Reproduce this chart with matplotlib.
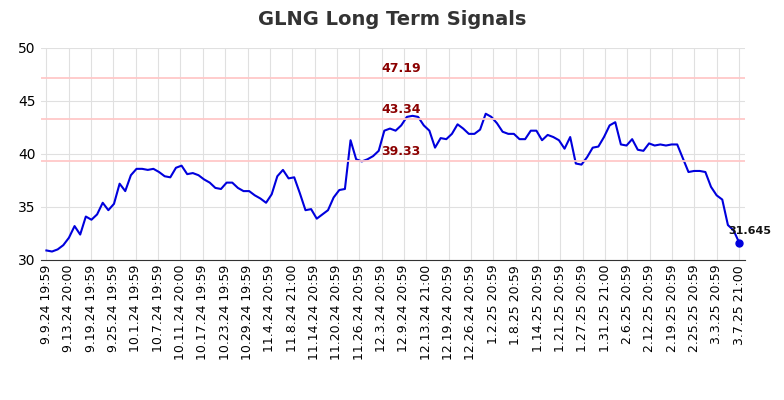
import matplotlib
matplotlib.use("Agg")
import matplotlib.pyplot as plt
import numpy as np

prices = [30.9,30.8,31.0,31.4,32.1,33.2,32.4,34.1,33.8,34.3,35.4,34.7,35.3,37.2,36.5,38.0,38.6,38.6,38.5,38.6,
          38.3,37.9,37.8,38.7,38.9,38.1,38.2,38.0,37.6,37.3,36.8,36.7,37.3,37.3,36.8,36.5,36.5,36.1,35.8,35.4,
          36.2,37.9,38.5,37.7,37.8,36.3,34.7,34.8,33.9,34.3,34.7,35.9,36.6,36.7,41.3,39.5,39.3,39.5,39.8,40.3,
          42.2,42.4,42.2,42.7,43.5,43.6,43.5,42.7,42.2,40.6,41.5,41.4,41.9,42.8,42.4,41.9,41.9,42.3,43.8,43.5,
          42.9,42.1,41.9,41.9,41.4,41.4,42.2,42.2,41.3,41.8,41.6,41.3,40.5,41.6,39.1,39.0,39.7,40.6,40.7,41.6,
          42.7,43.0,40.9,40.8,41.4,40.4,40.3,41.0,40.8,40.9,40.8,40.9,40.9,39.6,38.3,38.4,38.4,38.3,36.9,36.1,
          35.7,33.3,32.8,31.645]
tick_labels = ["9.9.24 19:59","9.13.24 20:00","9.19.24 19:59","9.25.24 19:59","10.1.24 19:59","10.7.24 19:59",
               "10.11.24 20:00","10.17.24 19:59","10.23.24 19:59","10.29.24 19:59","11.4.24 20:59","11.8.24 21:00",
               "11.14.24 20:59","11.20.24 20:59","11.26.24 20:59","12.3.24 20:59","12.9.24 20:59","12.13.24 21:00",
               "12.19.24 20:59","12.26.24 20:59","1.2.25 20:59","1.8.25 20:59","1.14.25 20:59","1.21.25 20:59",
               "1.27.25 20:59","1.31.25 21:00","2.6.25 20:59","2.12.25 20:59","2.19.25 20:59","2.25.25 20:59",
               "3.3.25 20:59","3.7.25 21:00"]
levels = [47.19, 43.34, 39.33]

fig = plt.figure(figsize=(7.84, 4.0), dpi=100)
ax = fig.add_axes([0.052, 0.35, 0.898, 0.53])
x = np.arange(len(prices))
ax.plot(x, prices, color="#0000dd", lw=1.5)
ax.plot(x[-1], prices[-1], "o", color="#0000dd", ms=5)
ax.annotate(f"{prices[-1]}", (x[-1], prices[-1]), xytext=(-8, 6), textcoords="offset points",
            fontsize=8, fontweight="bold", color="#111111")
for lv in levels:
    ax.axhline(lv, color="#ffc8c8", lw=1.3)
    ax.text(x[len(x)//2] + 1, lv + 0.25, f"{lv:.2f}", color="#8b0000", fontsize=9,
            fontweight="bold", ha="center", va="bottom")
ax.set_ylim(30, 50)
ax.set_yticks([30, 35, 40, 45, 50])
ax.set_xlim(-1, len(prices))
tpos = np.linspace(0, len(prices) - 1, len(tick_labels))
ax.set_xticks(tpos)
ax.set_xticklabels(tick_labels, rotation=90, fontsize=9)
ax.tick_params(axis="y", labelsize=10, length=0)
ax.tick_params(axis="x", length=0)
ax.grid(color="#e0e0e0", lw=0.8)
for s in ["top", "right", "left"]:
    ax.spines[s].set_visible(False)
ax.spines["bottom"].set_color("#333333")
fig.suptitle("GLNG Long Term Signals", fontsize=14, fontweight="bold", color="#333333", y=0.975)
fig.savefig("out.png")
